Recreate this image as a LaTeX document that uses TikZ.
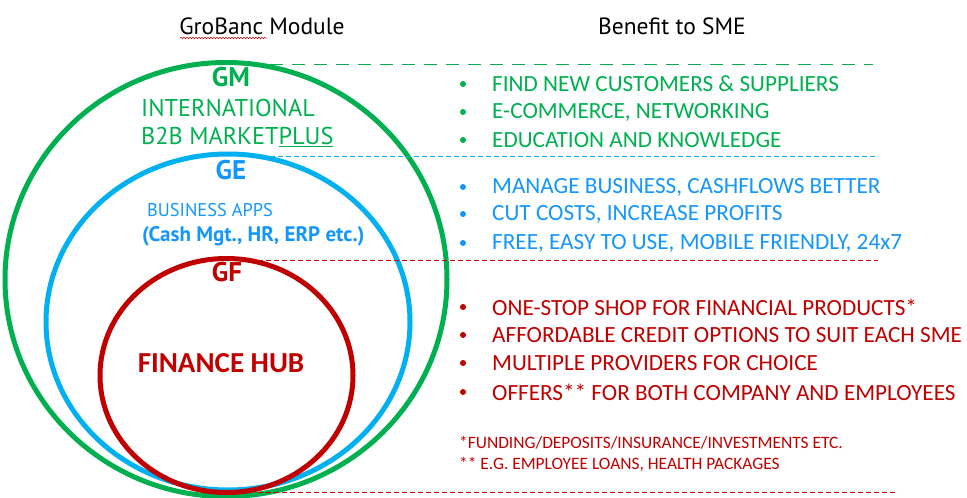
\documentclass[tikz,border=0pt]{standalone}
\usepackage{fontspec}
\setmainfont{Carlito}
\newfontfamily\dinfont{PT Sans}
\usetikzlibrary{decorations.pathmorphing}
\definecolor{gmgreen}{RGB}{0,176,80}
\definecolor{gecirc}{RGB}{0,176,240}
\definecolor{getext}{RGB}{20,150,250}
\definecolor{gfred}{RGB}{192,0,0}
\tikzset{
  ring/.style={line width=5pt},
  sep/.style={line width=0.9pt},
  head/.style={font=\dinfont\fontsize{23.5}{26}\selectfont, text=black, inner sep=0pt},
  modtag/.style={font=\dinfont\bfseries\fontsize{27}{30}\selectfont, inner sep=0pt},
  modtxt/.style={font=\dinfont\fontsize{24.3}{28}\selectfont, inner sep=0pt, anchor=west},
  bul/.style={font=\fontsize{23.2}{26}\selectfont, inner sep=0pt, anchor=west},
  dot/.style={circle, inner sep=0pt, minimum size=6pt},
  foot/.style={font=\fontsize{17.4}{20}\selectfont, inner sep=0pt, anchor=west, text=gfred},
}
\begin{document}
\begin{tikzpicture}[x=1pt,y=-1pt]
\useasboundingbox (0,0) rectangle (967,498);
% headings
\node[head] (h1) at (262,26) {GroBanc Module};
\draw[gfred, line width=0.5pt, decorate, decoration={snake, amplitude=0.8pt, segment length=3pt}] (180,38) -- (267,38);
\node[head] (h2) at (672,26) {Benefit to SME};
% ellipses
\draw[ring, gmgreen] (226,279.5) ellipse [x radius=221, y radius=217];
\draw[ring, gecirc] (228,322) ellipse [x radius=182, y radius=168];
\draw[ring, gfred] (226.5,375.5) ellipse [x radius=126.5, y radius=117];
% separators
\draw[sep, gmgreen, dash pattern=on 13pt off 9pt] (270,64) -- (873,64);
\draw[sep, gecirc, dash pattern=on 5pt off 3pt] (270,156) -- (877,156);
\draw[sep, gfred, dash pattern=on 5pt off 3pt] (258,260) -- (878,260);
\draw[sep, gfred, dash pattern=on 5pt off 3pt] (258,492) -- (898,492);
% module labels
\node[modtag, text=gmgreen] (gm) at (231,77) {GM};
\node[modtxt, text=gmgreen] (gm1) at (141,108) {INTERNATIONAL};
\node[modtxt, text=gmgreen] (gm2) at (141,137) {B2B MARKET\underline{PLUS}};
\node[modtag, text=getext] (ge) at (231,170) {GE};
\node[modtxt, text=getext, font=\dinfont\fontsize{18.4}{22}\selectfont] (ge1) at (147,210) {BUSINESS APPS};
\node[modtxt, text=getext, font=\dinfont\bfseries\fontsize{21}{24}\selectfont] (ge2) at (142,236) {(Cash Mgt., HR, ERP etc.)};
\node[modtag, text=gfred] (gf) at (227,272) {GF};
\node[text=gfred, font=\bfseries\fontsize{29}{32}\selectfont, inner sep=0pt] (fh) at (221,363) {FINANCE HUB};
% green bullets
\foreach \y/\t [count=\i] in {84/{FIND NEW CUSTOMERS \& SUPPLIERS},112/{E-COMMERCE, NETWORKING},140/{EDUCATION AND KNOWLEDGE}}{
  \node[dot, fill=gmgreen] (gmd\i) at (463,\y) {};
  \node[bul, text=gmgreen] (gmb\i) at (492,\y) {\t};
}
% blue bullets
\foreach \y/\t [count=\i] in {187/{MANAGE BUSINESS, CASHFLOWS BETTER},214/{CUT COSTS, INCREASE PROFITS},243/{FREE, EASY TO USE, MOBILE FRIENDLY, 24x7}}{
  \node[dot, fill=getext] (ged\i) at (463,\y) {};
  \node[bul, text=getext] (geb\i) at (492,\y) {\t};
}
% red bullets
\foreach \y/\t [count=\i] in {307/{ONE-STOP SHOP FOR FINANCIAL PRODUCTS*},335/{AFFORDABLE CREDIT OPTIONS TO SUIT EACH SME},363/{MULTIPLE PROVIDERS FOR CHOICE},392/{OFFERS** FOR BOTH COMPANY AND EMPLOYEES}}{
  \node[dot, fill=gfred] (gfd\i) at (463,\y) {};
  \node[bul, text=gfred] (gfb\i) at (492,\y) {\t};
}
\node[foot] (f1) at (459,443) {*FUNDING/DEPOSITS/INSURANCE/INVESTMENTS ETC.};
\node[foot] (f2) at (459,464) {** E.G. EMPLOYEE LOANS, HEALTH PACKAGES};
\end{tikzpicture}
\end{document}
